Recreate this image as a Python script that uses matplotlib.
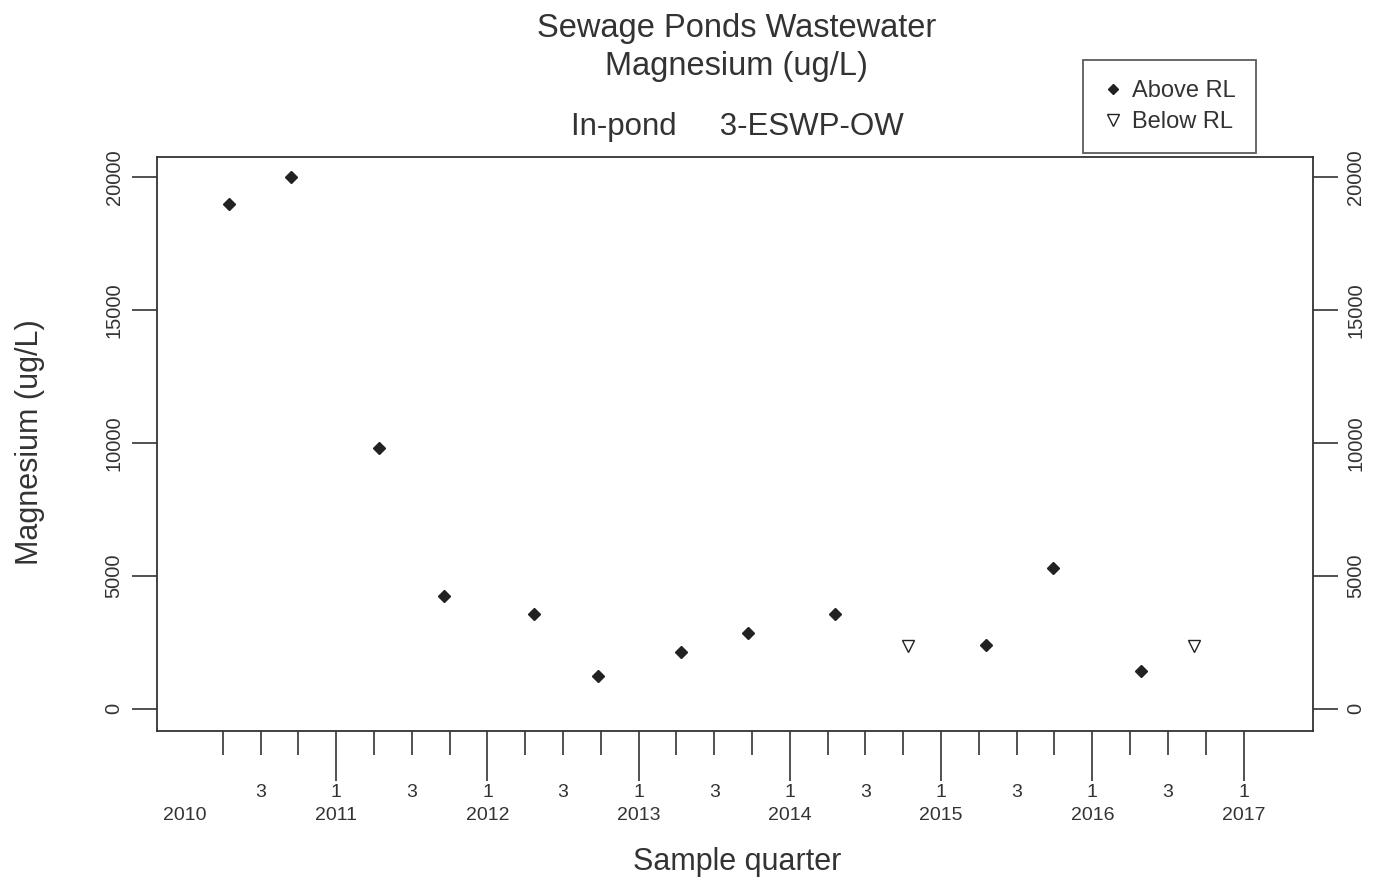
import numpy as np
import matplotlib
matplotlib.use("Agg")
import matplotlib.pyplot as plt
from matplotlib.lines import Line2D

plt.rcParams["font.family"] = ["Liberation Sans", "DejaVu Sans"]

# sample dates (decimal year) and magnesium results (ug/L)
above_t = [2010.29, 2010.70, 2011.28, 2011.71, 2012.31, 2012.73, 2013.28,
           2013.72, 2014.30, 2015.30, 2015.74, 2016.32]
above_v = [19000, 20000, 9800, 4250, 3580, 1250, 2150, 2850, 3580, 2400, 5300, 1430]
below_t = [2014.78, 2016.67]
below_v = [2380, 2380]

years = list(range(2010, 2018))
y_ticks = [0, 5000, 10000, 15000, 20000]

INK = "#333333"

fig = plt.figure(figsize=(13.8, 8.84), dpi=100)
ax = fig.add_axes([0.1138, 0.1731, 0.8377, 0.6493])

ax.plot(above_t, above_v, linestyle="none", marker="D", markersize=6.5,
        color="#222222")
ax.plot(below_t, below_v, linestyle="none", marker="v", markersize=8.5,
        markerfacecolor="white", markeredgecolor="#222222", markeredgewidth=1)

ax.set_xlim(2009.815, 2017.46)
ax.set_ylim(-830, 20750)

for s in ax.spines.values():
    s.set_linewidth(1.3)
    s.set_color(INK)

# quarter ticks (no tick at the very first quarter)
quarters = [y + q / 4 for y in years for q in range(4) if 2010.1 < y + q / 4 <= 2017.01]
major = [q for q in quarters if abs(q - round(q)) < 1e-6]
minor = [q for q in quarters if abs(q - round(q)) >= 1e-6]
ax.set_xticks(major)
ax.set_xticks(minor, minor=True)
ax.tick_params(axis="x", which="major", length=36, width=1.2, color=INK, labelbottom=False)
ax.tick_params(axis="x", which="minor", length=17, width=1.2, color=INK, labelbottom=False)

tr = ax.get_xaxis_transform()
for y in years:
    if y > 2010:
        ax.text(y, -0.108, "1", transform=tr, ha="center", va="center", fontsize=14, color=INK)
    ax.text(y, -0.148, str(y), transform=tr, ha="center", va="center", fontsize=14, color=INK)
    if y < 2017:
        ax.text(y + 0.5, -0.108, "3", transform=tr, ha="center", va="center", fontsize=14, color=INK)

ax.set_yticks(y_ticks)
ax.set_yticklabels([str(v) for v in y_ticks], rotation=90, va="center", fontsize=14.5, color=INK)
ax.tick_params(axis="y", which="both", length=18, width=1.2, color=INK,
               left=True, right=True, labelleft=True, labelright=True, pad=6)

fig.text(0.022, 0.5, "Magnesium (ug/L)", rotation=90, ha="center", va="center",
         fontsize=22, color=INK)
fig.text(0.534, 0.025, "Sample quarter", ha="center", va="center", fontsize=22, color=INK)

fig.text(0.534, 0.968, "Sewage Ponds Wastewater", ha="center", va="center", fontsize=23.5, color=INK)
fig.text(0.534, 0.925, "Magnesium (ug/L)", ha="center", va="center", fontsize=23.5, color=INK)
fig.text(0.534, 0.856, "In-pond     3-ESWP-OW", ha="center", va="center", fontsize=22.5, color=INK)

handles = [
    Line2D([], [], linestyle="none", marker="D", markersize=5.5, color="#222222"),
    Line2D([], [], linestyle="none", marker="v", markersize=9, markerfacecolor="white",
           markeredgecolor="#222222"),
]
leg = fig.legend(handles, ["Above RL", "Below RL"], loc="upper left",
                 bbox_to_anchor=(0.785, 0.932), borderaxespad=0, fontsize=17,
                 frameon=True, fancybox=False, handlelength=0.8, handletextpad=0.4,
                 borderpad=0.85, labelspacing=0.38, labelcolor=INK)
leg.get_frame().set_edgecolor(INK)
leg.get_frame().set_linewidth(1.3)

fig.savefig("out.png", dpi=100)
